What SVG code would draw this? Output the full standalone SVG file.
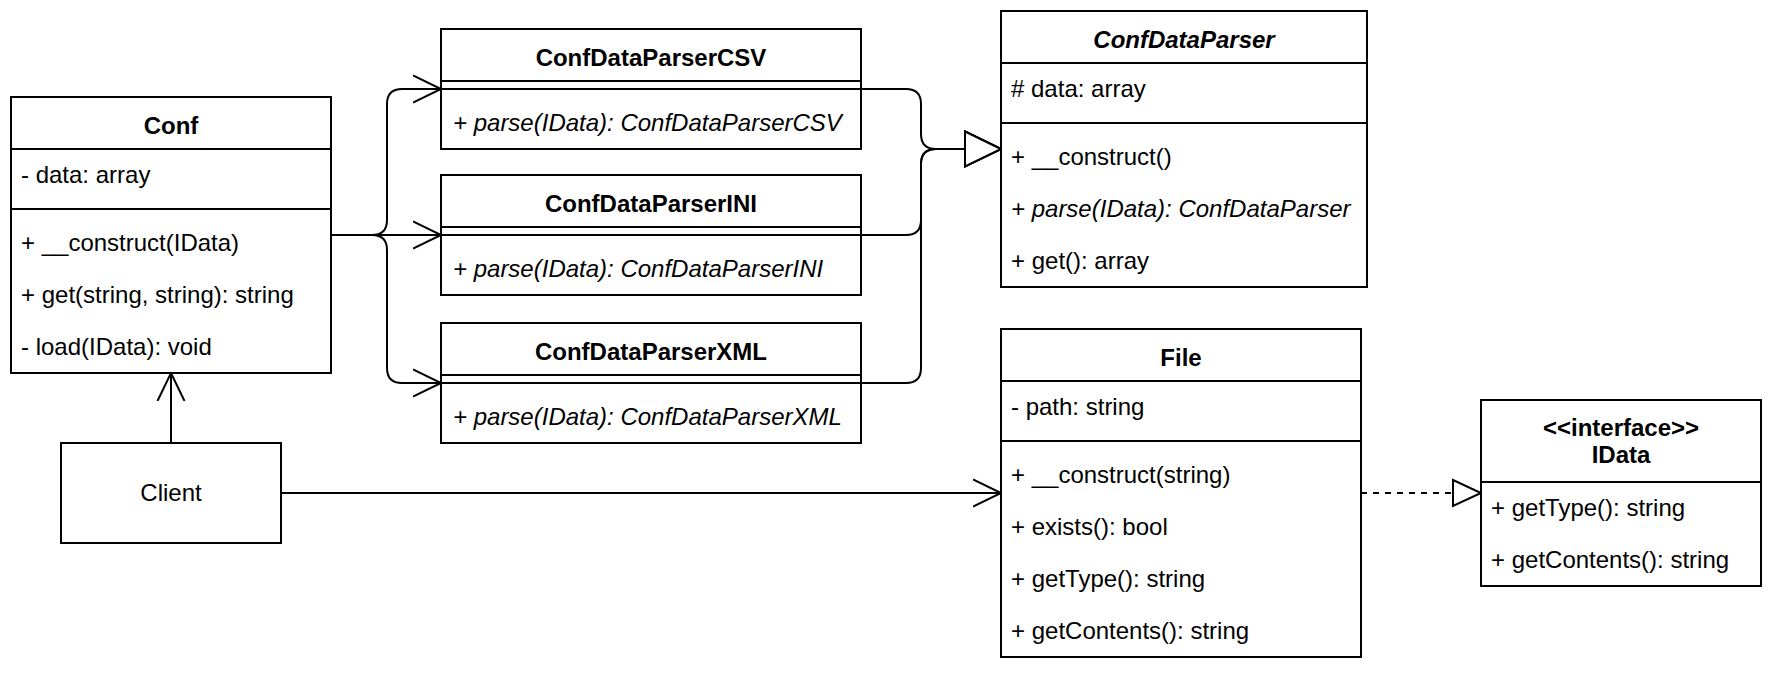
<svg xmlns="http://www.w3.org/2000/svg" width="1772" height="674" viewBox="0 0 1772 674">
<style>
  .box{fill:#fff;stroke:#000;stroke-width:2}
  .ln{stroke:#000;stroke-width:2;fill:none}
  text{font-family:"Liberation Sans",Arial,Helvetica,sans-serif;font-size:24px;fill:#000}
  .t{font-weight:bold;text-anchor:middle}
  .ti{font-weight:bold;font-style:italic;text-anchor:middle}
  .i{font-style:italic}
  .c{text-anchor:middle}
  .edge{stroke:#000;stroke-width:2;fill:none}
  .dash{stroke-dasharray:6 6}
</style>
<defs>
  <marker id="open" markerUnits="userSpaceOnUse" markerWidth="32" markerHeight="32" refX="28" refY="15" orient="auto">
    <path d="M0,1.5 L28,15 L0,28.5" fill="none" stroke="#000" stroke-width="2"/>
  </marker>
  <marker id="triBig" markerUnits="userSpaceOnUse" markerWidth="40" markerHeight="40" refX="37" refY="19" orient="auto">
    <path d="M1,1.5 L37,19 L1,36.5 Z" fill="#fff" stroke="#000" stroke-width="2"/>
  </marker>
  <marker id="triSmall" markerUnits="userSpaceOnUse" markerWidth="32" markerHeight="32" refX="29" refY="15" orient="auto">
    <path d="M1,2 L29,15 L1,28 Z" fill="#fff" stroke="#000" stroke-width="2"/>
  </marker>
</defs>

<g id="connectors">
  <path class="edge" marker-end="url(#open)" d="M331,235 H372 Q387,235 387,220 V104 Q387,89 402,89 H441"/>
  <path class="edge" marker-end="url(#open)" d="M331,235 H441"/>
  <path class="edge" marker-end="url(#open)" d="M331,235 H372 Q387,235 387,250 V368 Q387,383 402,383 H441"/>
  <path class="edge" marker-end="url(#triBig)" d="M861,89 H906 Q921,89 921,104 V134 Q921,149 936,149 H1001"/>
  <path class="edge" marker-end="url(#triBig)" d="M861,235 H906 Q921,235 921,220 V164 Q921,149 936,149 H1001"/>
  <path class="edge" marker-end="url(#triBig)" d="M861,383 H906 Q921,383 921,368 V164 Q921,149 936,149 H1001"/>
  <path class="edge" marker-end="url(#open)" d="M171,443 V373"/>
  <path class="edge" marker-end="url(#open)" d="M281,493 H1001"/>
  <path class="edge dash" marker-end="url(#triSmall)" d="M1361,493 H1481"/>
</g>

<g id="Conf">
  <rect class="box" x="11" y="97" width="320" height="276"/>
  <line class="ln" x1="11" y1="149" x2="331" y2="149"/>
  <line class="ln" x1="11" y1="209" x2="331" y2="209"/>
  <text class="t" x="171" y="134">Conf</text>
  <text x="21" y="183">- data: array</text>
  <text x="21" y="251">+ __construct(IData)</text>
  <text x="21" y="303">+ get(string, string): string</text>
  <text x="21" y="355">- load(IData): void</text>
</g>

<g id="ConfDataParserCSV">
  <rect class="box" x="441" y="29" width="420" height="120"/>
  <line class="ln" x1="441" y1="81" x2="861" y2="81"/>
  <line class="ln" x1="441" y1="89" x2="861" y2="89"/>
  <text class="t" x="651" y="66">ConfDataParserCSV</text>
  <text class="i" x="453" y="131">+ parse(IData): ConfDataParserCSV</text>
</g>

<g id="ConfDataParserINI">
  <rect class="box" x="441" y="175" width="420" height="120"/>
  <line class="ln" x1="441" y1="227" x2="861" y2="227"/>
  <line class="ln" x1="441" y1="235" x2="861" y2="235"/>
  <text class="t" x="651" y="212">ConfDataParserINI</text>
  <text class="i" x="453" y="277">+ parse(IData): ConfDataParserINI</text>
</g>

<g id="ConfDataParserXML">
  <rect class="box" x="441" y="323" width="420" height="120"/>
  <line class="ln" x1="441" y1="375" x2="861" y2="375"/>
  <line class="ln" x1="441" y1="383" x2="861" y2="383"/>
  <text class="t" x="651" y="360">ConfDataParserXML</text>
  <text class="i" x="453" y="425">+ parse(IData): ConfDataParserXML</text>
</g>

<g id="ConfDataParser">
  <rect class="box" x="1001" y="11" width="366" height="276"/>
  <line class="ln" x1="1001" y1="63" x2="1367" y2="63"/>
  <line class="ln" x1="1001" y1="123" x2="1367" y2="123"/>
  <text class="ti" x="1184" y="48">ConfDataParser</text>
  <text x="1011" y="97"># data: array</text>
  <text x="1011" y="165">+ __construct()</text>
  <text class="i" x="1011" y="217">+ parse(IData): ConfDataParser</text>
  <text x="1011" y="269">+ get(): array</text>
</g>

<g id="Client">
  <rect class="box" x="61" y="443" width="220" height="100"/>
  <text class="c" x="171" y="501">Client</text>
</g>

<g id="File">
  <rect class="box" x="1001" y="329" width="360" height="328"/>
  <line class="ln" x1="1001" y1="381" x2="1361" y2="381"/>
  <line class="ln" x1="1001" y1="441" x2="1361" y2="441"/>
  <text class="t" x="1181" y="366">File</text>
  <text x="1011" y="415">- path: string</text>
  <text x="1011" y="483">+ __construct(string)</text>
  <text x="1011" y="535">+ exists(): bool</text>
  <text x="1011" y="587">+ getType(): string</text>
  <text x="1011" y="639">+ getContents(): string</text>
</g>

<g id="IData">
  <rect class="box" x="1481" y="400" width="280" height="186"/>
  <line class="ln" x1="1481" y1="482" x2="1761" y2="482"/>
  <text class="t" x="1621" y="436">&lt;&lt;interface&gt;&gt;</text>
  <text class="t" x="1621" y="463">IData</text>
  <text x="1491" y="516">+ getType(): string</text>
  <text x="1491" y="568">+ getContents(): string</text>
</g>
</svg>
